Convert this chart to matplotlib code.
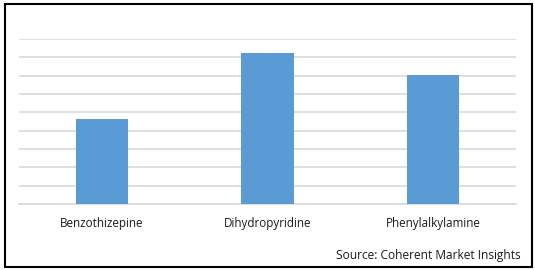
import matplotlib
matplotlib.use("Agg")
from matplotlib import pyplot as plt
from matplotlib.patches import Rectangle

categories = ["Benzothizepine", "Dihydropyridine", "Phenylalkylamine"]
values = [4.64, 8.24, 7.04]
source_text = "Source: Coherent Market Insights"

plt.rcParams['font.family'] = ['Open Sans', 'DejaVu Sans']

fig = plt.figure(figsize=(5.35, 2.70), dpi=100)
W, H = 535, 270
ax = fig.add_axes([19 / W, (H - 204) / H, (516 - 19) / W, (204 - 39) / H])

ax.bar(range(len(categories)), values, width=0.314, color="#5b9bd5", zorder=3)
ax.set_xlim(-0.5, 2.5)
ax.set_ylim(0, 9)
ax.set_yticks(range(0, 10))
ax.yaxis.grid(True, color="#d9d9d9", linewidth=1.2, zorder=0)
ax.tick_params(axis="y", length=0, labelleft=False)
ax.tick_params(axis="x", length=0, pad=9.5, labelsize=8.4, colors="#1a1a1a")
ax.set_xticks(range(len(categories)))
ax.set_xticklabels(categories)
for s in ["top", "left", "right"]:
    ax.spines[s].set_visible(False)
ax.spines["bottom"].set_color("#d9d9d9")
ax.spines["bottom"].set_linewidth(1.2)

fig.text(521 / W, (H - 256) / H, source_text, ha="right", va="center",
         fontsize=8.6, color="#1a1a1a")

fig.patches.append(Rectangle((4.5 / W, 3.5 / H), 527 / W, 263 / H,
                             transform=fig.transFigure, fill=False,
                             edgecolor="black", linewidth=1.5))

fig.savefig("out.png", dpi=100)
